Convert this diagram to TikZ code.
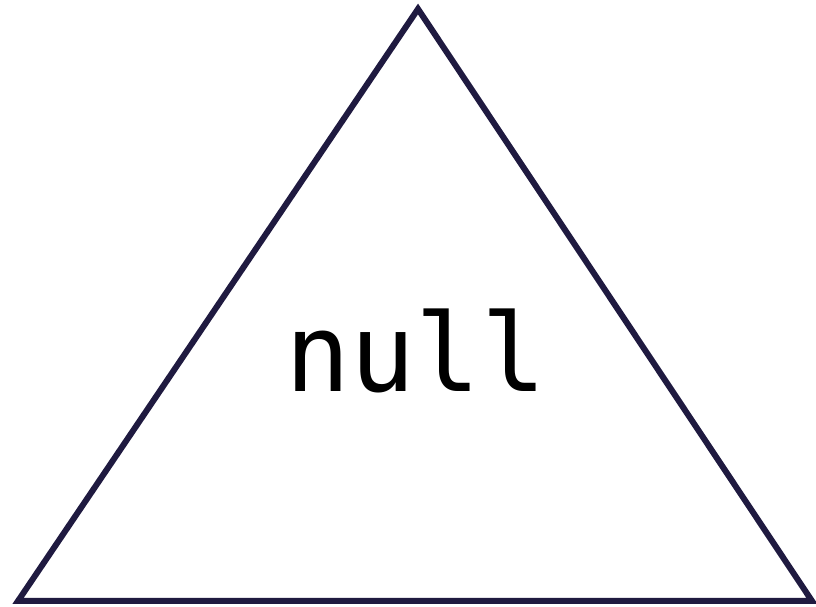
\documentclass[tikz,border=0pt]{standalone}
\usepackage{fontspec}
\setmonofont{DejaVu Sans Mono}
\usetikzlibrary{positioning}
\definecolor{ink}{HTML}{1F1A40}
\tikzset{tri/.style={draw=ink,line width=6pt,line join=miter},label/.style={font=\ttfamily\fontsize{108}{112}\selectfont,text=black,inner sep=0pt}}
\begin{document}
\begin{tikzpicture}[x=1pt,y=1pt]
\useasboundingbox (0,0) rectangle (816,607);
\coordinate (apex) at (418,598);
\coordinate (left) at (18,6);
\coordinate (right) at (812,6);
\draw[tri] (apex) -- (left) -- (right) -- cycle;
\node[label,anchor=base] (val) at (416,215) {null};
\end{tikzpicture}
\end{document}
